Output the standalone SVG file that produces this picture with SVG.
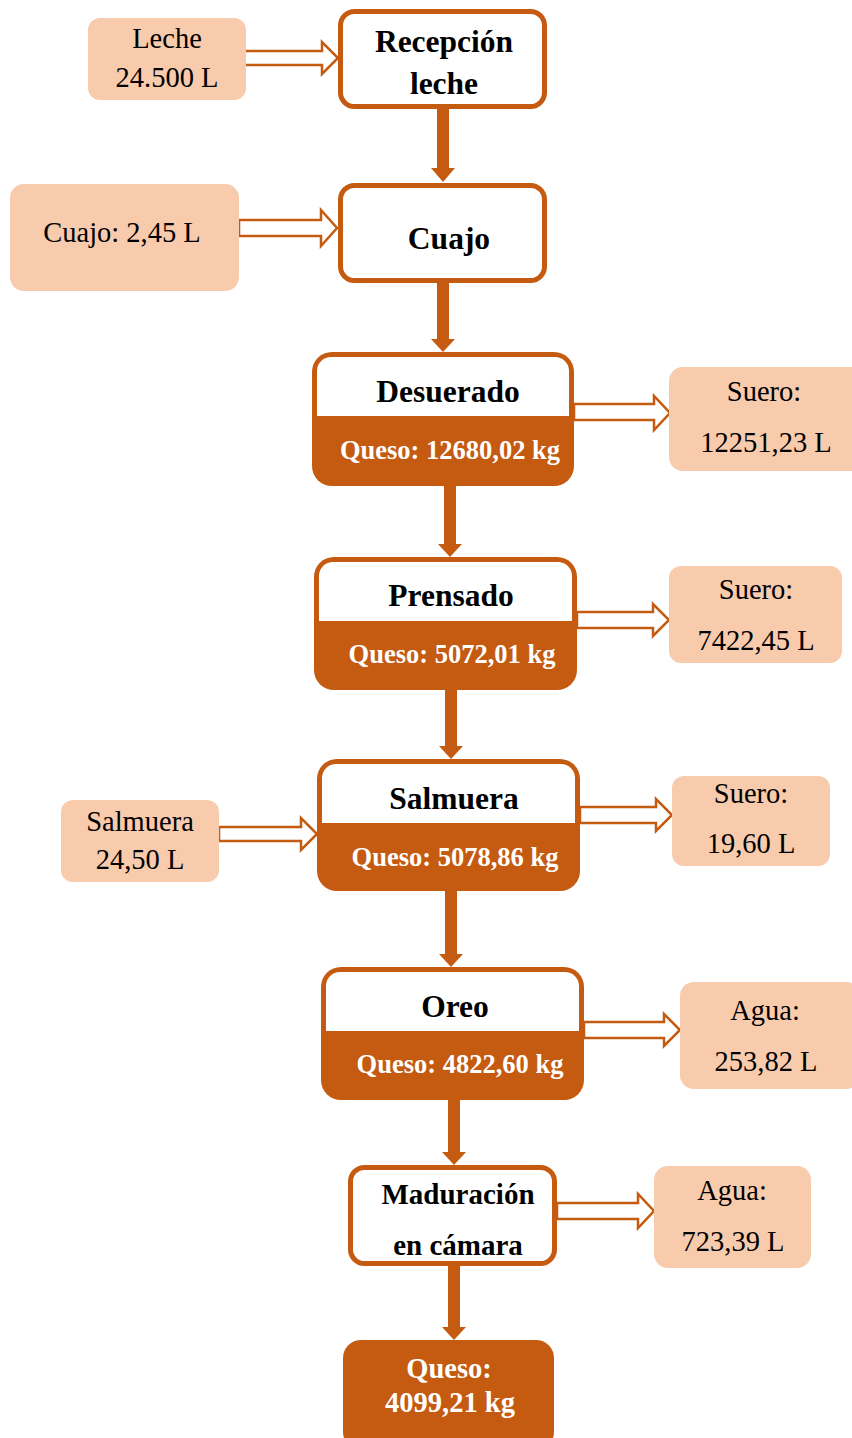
<svg xmlns="http://www.w3.org/2000/svg" width="852" height="1438" viewBox="0 0 852 1438">
<style>
.in{fill:#F8CBAD}
.box{fill:#fff;stroke:#C55A11;stroke-width:5}
.dark{fill:#C55A11}
.wt{fill:#fff}
.ha{fill:#fff;stroke:#C55A11;stroke-width:2.5;stroke-linejoin:miter}
.va{stroke:#C55A11;stroke-width:12;fill:none}
.t{font-family:"Liberation Serif","Times New Roman",serif;font-weight:bold;font-size:31.5px;fill:#000;text-anchor:middle}
.q{font-family:"Liberation Serif","Times New Roman",serif;font-weight:bold;font-size:26.5px;fill:#fff;text-anchor:middle}
.l{font-family:"Liberation Serif","Times New Roman",serif;font-size:28.5px;fill:#000;text-anchor:middle}
</style>
<g id="connectors">
<path class="va" d="M443,108 V170"/><path d="M431,168 H455 L443,182 Z" class="dark"/>
<path class="va" d="M443,283 V340"/><path d="M431,339 H455 L443,352 Z" class="dark"/>
<path class="va" d="M450,486 V545"/><path d="M438,544 H462 L450,557 Z" class="dark"/>
<path class="va" d="M451,690 V747"/><path d="M439,746 H463 L451,759 Z" class="dark"/>
<path class="va" d="M451,891 V955"/><path d="M439,954 H463 L451,967 Z" class="dark"/>
<path class="va" d="M454,1100 V1153"/><path d="M442,1152 H466 L454,1165 Z" class="dark"/>
<path class="va" d="M454,1266 V1328"/><path d="M442,1327 H466 L454,1340 Z" class="dark"/>
<polygon class="ha" points="241,51 322,51 322,42 338,58 322,74 322,65 241,65"/>
<polygon class="ha" points="239,220 321,220 321,210 337,228 321,246 321,236 239,236"/>
<polygon class="ha" points="574,404 654,404 654,396 670,413 654,430 654,420 574,420"/>
<polygon class="ha" points="577,612 653,612 653,604 669,620 653,636 653,628 577,628"/>
<polygon class="ha" points="219,827 301,827 301,818 317,834 301,850 301,841 219,841"/>
<polygon class="ha" points="580,807 656,807 656,799 672,815 656,831 656,823 580,823"/>
<polygon class="ha" points="584,1022 664,1022 664,1014 680,1030 664,1046 664,1038 584,1038"/>
<polygon class="ha" points="557,1203 638,1203 638,1194 654,1211 638,1228 638,1219 557,1219"/>
</g>
<g id="leche"><rect class="in" x="88" y="18" width="158" height="82" rx="12"/>
<text class="l" x="167" y="48">Leche</text><text class="l" x="167" y="87">24.500 L</text></g>
<g id="recepcion"><rect class="box" x="340.5" y="11.5" width="204" height="95" rx="14"/>
<text class="t" x="444" y="52">Recepción</text><text class="t" x="444" y="94">leche</text></g>
<g id="cuajo-in"><rect class="in" x="10" y="184" width="229" height="107" rx="14"/>
<text class="l" x="122" y="242">Cuajo: 2,45 L</text></g>
<g id="cuajo"><rect class="box" x="340.5" y="185.5" width="204" height="95" rx="14"/>
<text class="t" x="449" y="249">Cuajo</text></g>
<g id="desuerado"><rect class="dark" x="312" y="352" width="262" height="134" rx="20"/>
<path class="wt" d="M317,416 V370 A14,14 0 0 1 331,357 H555 A14,14 0 0 1 569,370 V416 Z"/>
<text class="t" x="448" y="402">Desuerado</text><text class="q" x="450" y="459">Queso: 12680,02 kg</text></g>
<g id="suero1"><rect class="in" x="669" y="367" width="200" height="104" rx="14"/>
<text class="l" x="764" y="401">Suero:</text><text class="l" x="766" y="452">12251,23 L</text></g>
<g id="prensado"><rect class="dark" x="314" y="557" width="263" height="133" rx="20"/>
<path class="wt" d="M319,621 V575 A14,14 0 0 1 333,562 H558 A14,14 0 0 1 572,575 V621 Z"/>
<text class="t" x="451" y="606">Prensado</text><text class="q" x="452" y="663">Queso: 5072,01 kg</text></g>
<g id="suero2"><rect class="in" x="669" y="566" width="173" height="97" rx="12"/>
<text class="l" x="756" y="599">Suero:</text><text class="l" x="756" y="650">7422,45 L</text></g>
<g id="salmuera-in"><rect class="in" x="61" y="800" width="158" height="82" rx="12"/>
<text class="l" x="140" y="831">Salmuera</text><text class="l" x="140" y="869">24,50 L</text></g>
<g id="salmuera"><rect class="dark" x="317" y="759" width="263" height="132" rx="20"/>
<path class="wt" d="M322,823 V777 A14,14 0 0 1 336,764 H561 A14,14 0 0 1 575,777 V823 Z"/>
<text class="t" x="454" y="809">Salmuera</text><text class="q" x="455" y="866">Queso: 5078,86 kg</text></g>
<g id="suero3"><rect class="in" x="672" y="776" width="158" height="90" rx="12"/>
<text class="l" x="751" y="803">Suero:</text><text class="l" x="751" y="853">19,60 L</text></g>
<g id="oreo"><rect class="dark" x="321" y="967" width="263" height="133" rx="20"/>
<path class="wt" d="M326,1031 V985 A14,14 0 0 1 340,972 H565 A14,14 0 0 1 579,985 V1031 Z"/>
<text class="t" x="455" y="1017">Oreo</text><text class="q" x="460" y="1073">Queso: 4822,60 kg</text></g>
<g id="agua1"><rect class="in" x="680" y="982" width="180" height="107" rx="14"/>
<text class="l" x="765" y="1020">Agua:</text><text class="l" x="766" y="1071">253,82 L</text></g>
<g id="maduracion"><rect class="box" x="350.5" y="1167.5" width="204" height="96" rx="14"/>
<text class="t" x="458" y="1204" style="font-size:29px">Maduración</text><text class="t" x="458" y="1255" style="font-size:29px">en cámara</text></g>
<g id="agua2"><rect class="in" x="654" y="1166" width="157" height="102" rx="14"/>
<text class="l" x="732" y="1200">Agua:</text><text class="l" x="733" y="1251">723,39 L</text></g>
<g id="queso-final"><rect class="dark" x="343" y="1340" width="211" height="110" rx="18"/>
<text class="q" x="449" y="1378" style="font-size:28.5px">Queso:</text><text class="q" x="450" y="1412" style="font-size:28.5px">4099,21 kg</text></g>
</svg>
